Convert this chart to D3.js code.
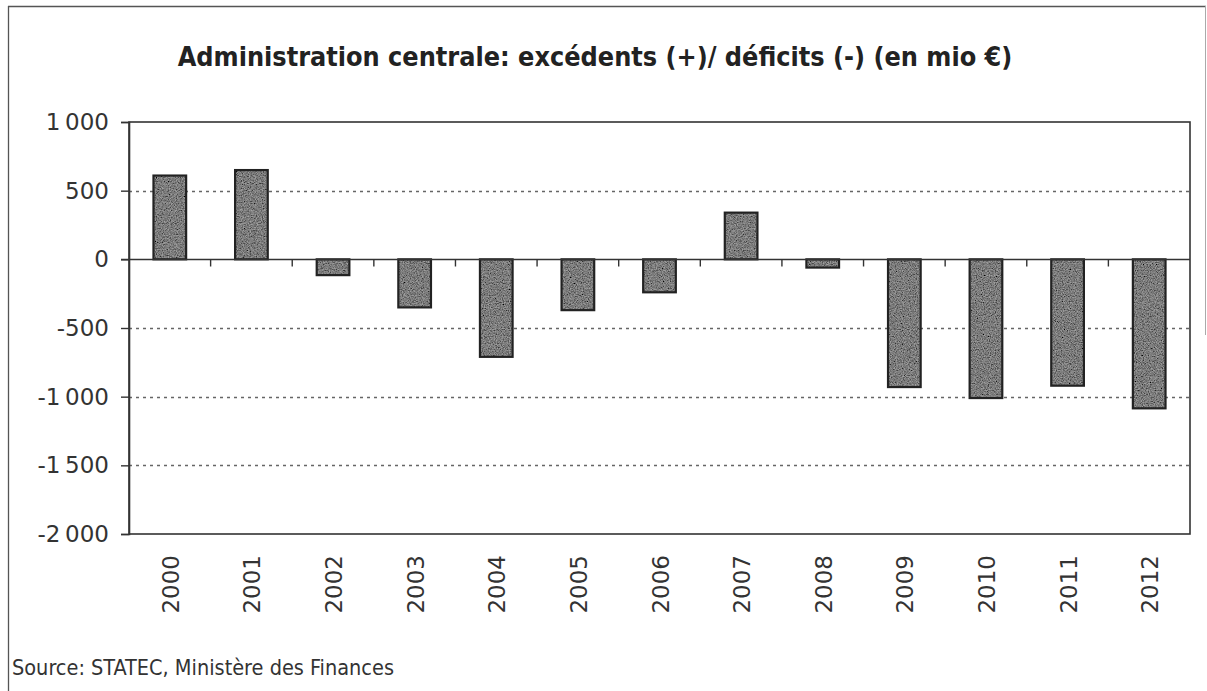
<!DOCTYPE html>
<html>
<head>
<meta charset="utf-8">
<script src="https://cdn.jsdelivr.net/npm/d3@7"></script>
<style>
  html, body { margin: 0; padding: 0; background: #fff; }
  svg { display: block; }
</style>
</head>
<body>
<svg id="chart" width="1207" height="691"></svg>
<script>
// ---- data ----
const categories = ["2000","2001","2002","2003","2004","2005","2006","2007","2008","2009","2010","2011","2012"];
const values = [610, 650, -115, -350, -710, -370, -240, 340, -60, -930, -1010, -920, -1085];
const yTicks = [1000, 500, 0, -500, -1000, -1500, -2000];
const titleText = "Administration centrale: excédents (+)/ déficits (-) (en mio €)";
const sourceText = "Source: STATEC, Ministère des Finances";

// ---- layout ----
const W = 1207, H = 691;
const plot = { left: 129, right: 1190, top: 122, bottom: 534 };

const svg = d3.select("#chart");

// texture filter for the scanned stipple look
const defs = svg.append("defs");
const f = defs.append("filter").attr("id", "grain").attr("x", 0).attr("y", 0).attr("width", 1).attr("height", 1);
f.append("feTurbulence").attr("type", "fractalNoise").attr("baseFrequency", 0.85).attr("numOctaves", 2).attr("seed", 7).attr("result", "noise");
f.append("feColorMatrix").attr("in", "noise").attr("type", "matrix")
  .attr("values", "1.6 0 0 0 -0.25  1.6 0 0 0 -0.25  1.6 0 0 0 -0.25  0 0 0 0 1").attr("result", "gnoise");
f.append("feBlend").attr("in", "SourceGraphic").attr("in2", "gnoise").attr("mode", "multiply").attr("result", "blend");
f.append("feComposite").attr("in", "blend").attr("in2", "SourceGraphic").attr("operator", "in");

const x = d3.scaleBand().domain(categories).range([plot.left, plot.right]).paddingInner(0.6).paddingOuter(0.3);
const step = x.step();
const y = d3.scaleLinear().domain([-2000, 1000]).range([plot.bottom, plot.top]);

// outer frame
const frame = svg.append("g").attr("stroke", "#555").attr("fill", "none");
frame.append("line").attr("x1", 8).attr("x2", 1206).attr("y1", 6.5).attr("y2", 6.5).attr("stroke-width", 1.3);
frame.append("line").attr("x1", 8.5).attr("x2", 8.5).attr("y1", 6).attr("y2", H).attr("stroke-width", 1.3);
frame.append("line").attr("x1", 1205.5).attr("x2", 1205.5).attr("y1", 6).attr("y2", 335).attr("stroke", "#aaa").attr("stroke-width", 1);

// title
const title = svg.append("text")
  .attr("x", 595).attr("y", 66)
  .attr("text-anchor", "middle")
  .attr("font-family", "'Liberation Sans Narrow', 'DejaVu Sans Condensed', 'Liberation Sans', sans-serif")
  .attr("font-weight", "bold")
  .attr("font-size", 27)
  .attr("fill", "#222")
  .text(titleText);
const tw = title.node().getComputedTextLength();
if (tw > 0) title.attr("font-size", 27 * 835 / tw);

// gridlines (dashed) for interior ticks
svg.append("g").selectAll("line")
  .data(yTicks.filter(d => d !== 1000 && d !== -2000 && d !== 0))
  .join("line")
  .attr("x1", plot.left).attr("x2", plot.right)
  .attr("y1", d => Math.round(y(d)) + 0.5).attr("y2", d => Math.round(y(d)) + 0.5)
  .attr("stroke", "#666").attr("stroke-width", 1.4).attr("stroke-dasharray", "3,4");

// plot border
svg.append("rect")
  .attr("x", plot.left).attr("y", plot.top)
  .attr("width", plot.right - plot.left).attr("height", plot.bottom - plot.top)
  .attr("fill", "none").attr("stroke", "#333").attr("stroke-width", 1.6);

// y axis
const yAxis = d3.axisLeft(y).tickValues(yTicks).tickSize(8).tickPadding(12);
const yg = svg.append("g").attr("transform", `translate(${plot.left},0)`).call(yAxis);
yg.select(".domain").attr("stroke", "#333").attr("stroke-width", 1.6);
yg.selectAll(".tick line").attr("stroke", "#333").attr("stroke-width", 1.4);
yg.selectAll(".tick text")
  .attr("font-family", "'DejaVu Sans', sans-serif")
  .attr("font-size", 23)
  .attr("fill", "#333")
  .text(d => {
    const s = Math.abs(d).toString();
    const body = s.length > 3 ? s.slice(0, s.length - 3) + "\u2009" + s.slice(-3) : s;
    return (d < 0 ? "-" : "") + body;
  });

// bars
const bars = svg.append("g");
bars.selectAll("rect.fill")
  .data(categories)
  .join("rect")
  .attr("class", "fill")
  .attr("x", d => x(d))
  .attr("width", x.bandwidth())
  .attr("y", (d, i) => y(Math.max(0, values[i])))
  .attr("height", (d, i) => Math.abs(y(values[i]) - y(0)))
  .attr("fill", "#a2a2a2")
  .attr("filter", "url(#grain)");
bars.selectAll("rect.outline")
  .data(categories)
  .join("rect")
  .attr("class", "outline")
  .attr("x", d => x(d))
  .attr("width", x.bandwidth())
  .attr("y", (d, i) => y(Math.max(0, values[i])))
  .attr("height", (d, i) => Math.abs(y(values[i]) - y(0)))
  .attr("fill", "none")
  .attr("stroke", "#222")
  .attr("stroke-width", 2.2);

// zero line with category separator ticks
const zeroY = Math.round(y(0)) + 0.5;
svg.append("line")
  .attr("x1", plot.left - 8).attr("x2", plot.right)
  .attr("y1", zeroY).attr("y2", zeroY)
  .attr("stroke", "#333").attr("stroke-width", 1.6);
svg.append("g").selectAll("line")
  .data(categories.slice(1))
  .join("line")
  .attr("x1", d => x(d) - (step - x.bandwidth()) / 2)
  .attr("x2", d => x(d) - (step - x.bandwidth()) / 2)
  .attr("y1", zeroY).attr("y2", zeroY + 7)
  .attr("stroke", "#333").attr("stroke-width", 1.4);

// x labels (rotated) under plot
svg.append("g").selectAll("text")
  .data(categories)
  .join("text")
  .attr("transform", d => `translate(${x(d) + x.bandwidth() / 2 + 9},${plot.bottom + 21}) rotate(-90)`)
  .attr("text-anchor", "end")
  .attr("font-family", "'DejaVu Sans', sans-serif")
  .attr("font-size", 23)
  .attr("fill", "#333")
  .text(d => d);

// source
svg.append("text")
  .attr("x", 12).attr("y", 675)
  .attr("font-family", "'Liberation Sans Narrow', 'DejaVu Sans Condensed', sans-serif")
  .attr("font-size", 21.5)
  .attr("fill", "#333")
  .text(sourceText);
</script>
</body>
</html>
